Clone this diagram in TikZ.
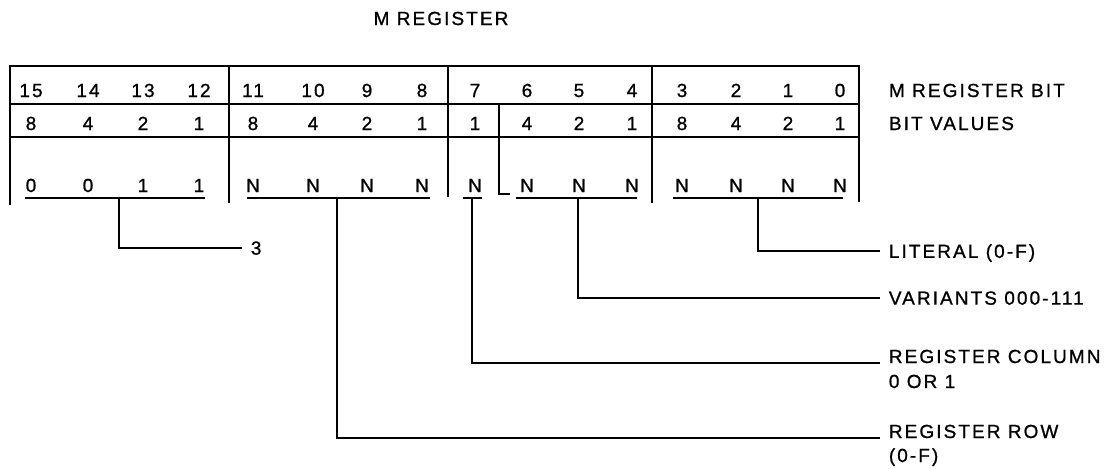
\documentclass[tikz,border=0pt]{standalone}
\usepackage{fontspec}
\setmainfont[LetterSpace=11, FakeBold=1]{Liberation Sans}
\usepackage{tikz}

\begin{document}
\begin{tikzpicture}[x=0.02cm, y=-0.02cm, line width=1.1pt,
    txt/.style={inner sep=0pt, font=\fontsize{10.8}{13}\selectfont},
    lbl/.style={txt, text depth=0pt, inner xsep=4.5pt, anchor=west}]
  \useasboundingbox (0,0) rectangle (1111,468);
  \node[txt, anchor=base] (title) at (441,25) {M REGISTER};
  % frame
  \draw (10,205) -- (10,66) -- (859,66) -- (859,202);
  \draw (10,104) -- (859,104);
  \draw (10,137) -- (859,137);
  \draw (229,66) -- (229,203);
  \draw (448,66) -- (448,197);
  \draw (510,194) -- (499,194) -- (499,104);
  \draw (652,66) -- (652,203);
  \foreach \b/\x/\v/\c in {15/31/8/0, 14/88/4/0, 13/143/2/1, 12/199/1/1,
      11/253/8/N, 10/313/4/N, 9/367/2/N, 8/422/1/N, 7/475/1/N,
      6/527/4/N, 5/579/2/N, 4/632/1/N, 3/682/8/N, 2/736/4/N, 1/788/2/N, 0/840/1/N}
  {
    \node[txt, anchor=base] (b\b) at (\x,97) {\b};
    \node[txt, anchor=base] (v\b) at (\x,130) {\v};
    \node[txt, anchor=base] (n\b) at (\x,192) {\c};
  }
  \node[txt, anchor=base west] (bitrow) at (888,97) {M REGISTER BIT};
  \node[txt, anchor=base west] (valrow) at (888,130) {BIT VALUES};
  % underlines
  \draw (25,198) -- (205,198);
  \draw (247,198) -- (430,198);
  \draw (463,198) -- (482,198);
  \draw (516,198) -- (637,198);
  \draw (673,198) -- (843,198);
  \coordinate (hi) at (119,198);
  \coordinate (row) at (337,198);
  \coordinate (col) at (472,198);
  \coordinate (var) at (578,198);
  \coordinate (lit) at (758,198);
  % labels
  \node[lbl] (three) at (242,248) {3};
  \node[lbl] (litlbl) at (880,251) {LITERAL (0-F)};
  \node[lbl] (varlbl) at (880,298) {VARIANTS 000-111};
  \node[lbl, anchor=base west] (collbl) at (880,363) {REGISTER COLUMN};
  \node[lbl, anchor=base west] (collbl2) at (880,388) {0 OR 1};
  \node[lbl, anchor=base west] (rowlbl) at (880,438) {REGISTER ROW};
  \node[lbl, anchor=base west] (rowlbl2) at (880,462) {(0-F)};
  % leaders
  \draw (hi) |- (three.west);
  \draw (lit) |- (litlbl.west);
  \draw (var) |- (varlbl.west);
  \draw (col) |- (collbl.base west);
  \draw (row) |- (rowlbl.base west);
\end{tikzpicture}
\end{document}
